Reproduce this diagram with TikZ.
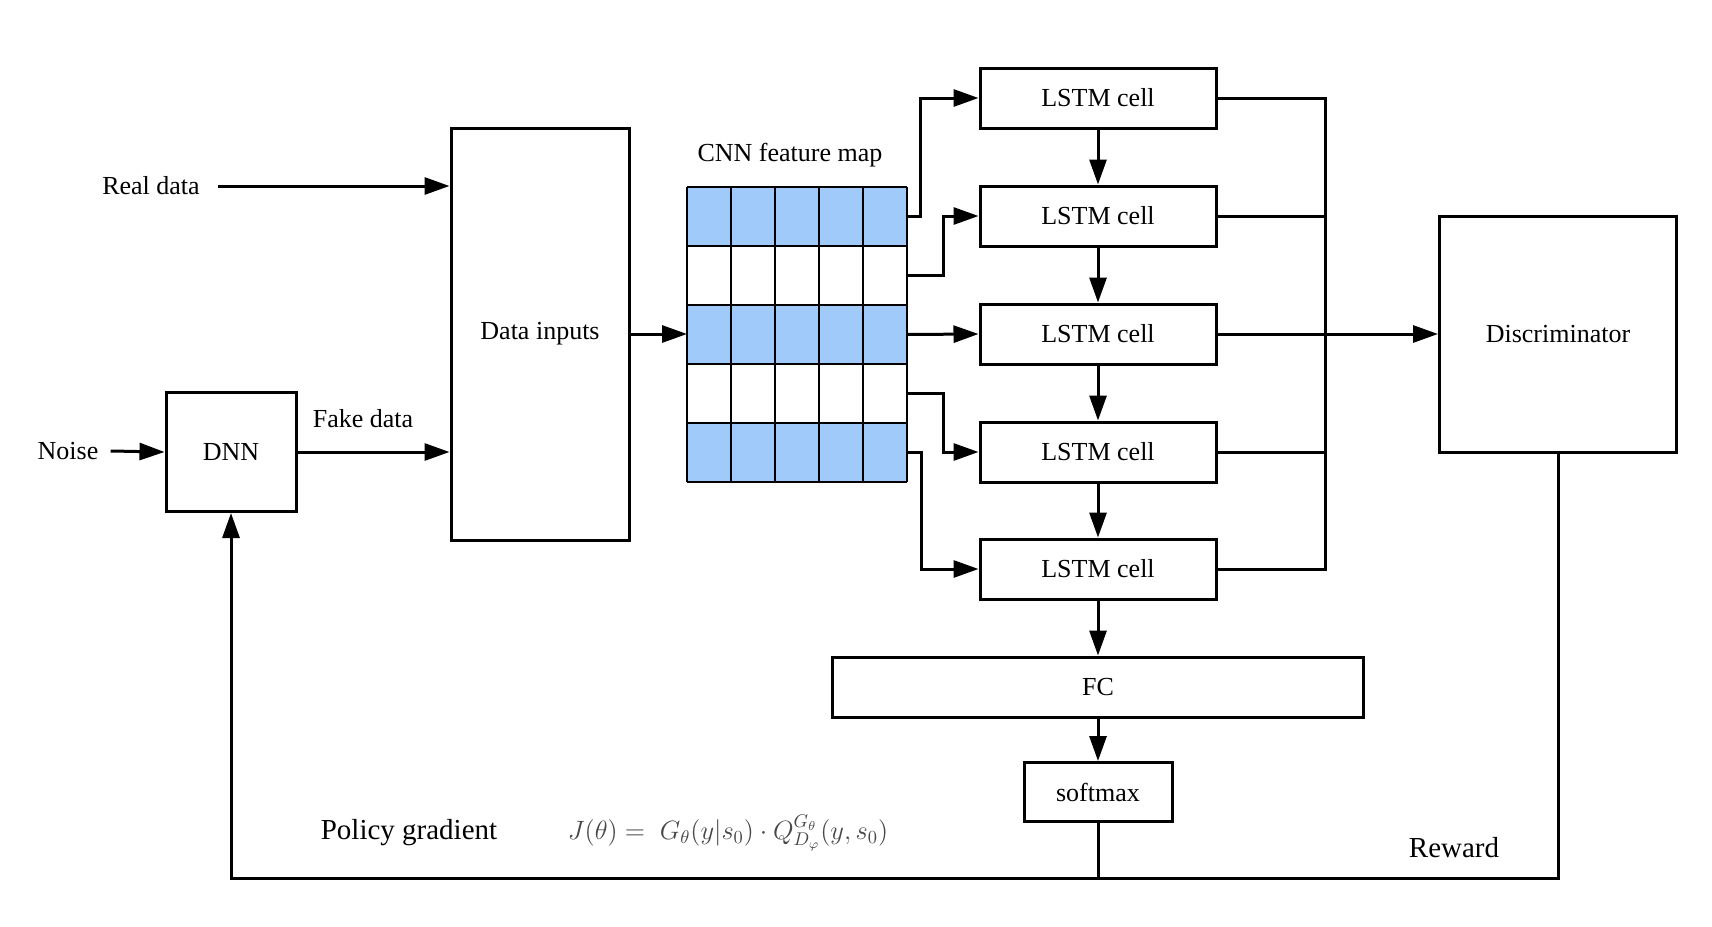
\documentclass[tikz,border=0pt]{standalone}
\usepackage{graphicx}
\usepackage{fontspec}
\setmainfont{Liberation Serif}
\usetikzlibrary{arrows.meta}
\definecolor{cellblue}{RGB}{160,202,250}
\begin{document}
\begin{tikzpicture}[x=0.5pt,y=-0.5pt,
  box/.style={draw,line width=1.5pt,inner sep=0pt,font=\fontsize{13}{15}\selectfont},
  lbl/.style={inner sep=0pt,font=\fontsize{13}{15}\selectfont},
  arr/.style={line width=1.5pt,-{Triangle[length=12.5pt,width=8.5pt]}},
  ln/.style={line width=1.5pt},
  gridln/.style={line width=0.9pt}
  ]
\useasboundingbox (0,0) rectangle (1712,926);

% left part
\node[box,minimum width=89pt,minimum height=206pt] (inputs) at (540,334) {Data inputs};
\node[box,minimum width=65pt,minimum height=59.5pt] (dnn) at (231,452) {DNN};
\node[lbl] (real) at (151,186) {Real data};
\node[lbl] (noise) at (68,451) {Noise};
\node[lbl] (fake) at (363,419) {Fake data};
\node[lbl] (cnn) at (790,155) {CNN feature map};

% feature map grid
\fill[cellblue] (687,187) rectangle (907,246);
\fill[cellblue] (687,305) rectangle (907,364);
\fill[cellblue] (687,423) rectangle (907,482);
\foreach \k in {0,...,5} {
  \draw[gridln] (687+44*\k,187) -- (687+44*\k,482);
  \draw[gridln] (687,187+59*\k) -- (907,187+59*\k);
}
\foreach \r in {1,...,5} \coordinate (g\r) at (907,157.5+59*\r);
\coordinate (gin) at (687,334);

% LSTM column
\foreach \i/\y in {1/98,2/216,3/334,4/452,5/569}
  \node[box,minimum width=118pt,minimum height=30pt] (l\i) at (1098,\y) {LSTM cell};
\node[box,minimum width=118.5pt,minimum height=118pt] (disc) at (1558,334) {Discriminator};
\node[box,minimum width=265.5pt,minimum height=30pt] (fc) at (1098,687) {FC};
\node[box,minimum width=74pt,minimum height=29.5pt] (soft) at (1098,792) {softmax};

% bottom labels
\node[lbl,font=\fontsize{14.5}{17}\selectfont] (pg) at (409,833) {Policy gradient};
\node[lbl,text=black!72,font=\fontsize{14}{17}\selectfont] (formula) at (728,833)
  {\scalebox{0.92}{$J(\theta)=\;G_\theta(y|s_0)\cdot Q^{G_\theta}_{D_\varphi}(y,s_0)$}};
\node[lbl,font=\fontsize{14.5}{17}\selectfont] (reward) at (1454,848) {Reward};

% left connectors
\draw[arr] ([xshift=9pt]real.east) -- (inputs.west |- real.east);
\draw[arr] ([xshift=6pt]noise.east) -- (dnn.west);
\draw[arr] (dnn.east) -- (inputs.west |- dnn.east);
\draw[arr] (inputs.east) -- (gin);

% grid to LSTM
\draw[arr] (g1) -- ++(13,0) |- (l1.west);
\draw[arr] (g2) -- ++(36,0) |- (l2.west);
\draw[arr] (g3) -- (l3.west);
\draw[arr] (g4) -- ++(36,0) |- (l4.west);
\draw[arr] (g5) -- ++(14,0) |- (l5.west);

% LSTM chain
\foreach \a/\b in {1/2,2/3,3/4,4/5} \draw[arr] (l\a) -- (l\b);
\draw[arr] (l5) -- (fc);
\draw[arr] (fc) -- (soft);

% bus to discriminator
\coordinate (bt) at (1325,98);
\coordinate (bb) at (1325,569);
\draw[ln] (l1.east) -- (bt) -- (bb) -- (l5.east);
\draw[ln] (l2.east) -- (l2.east -| bt);
\draw[ln] (l4.east) -- (l4.east -| bt);
\draw[arr] (l3.east) -- (disc.west);

% feedback loop
\coordinate (bl) at (231,878);
\coordinate (br) at (1558,878);
\draw[ln] (soft.south) -- (soft.south |- br);
\draw[arr] (disc.south) -- (br) -- (bl) -- (dnn.south);
\end{tikzpicture}
\end{document}
